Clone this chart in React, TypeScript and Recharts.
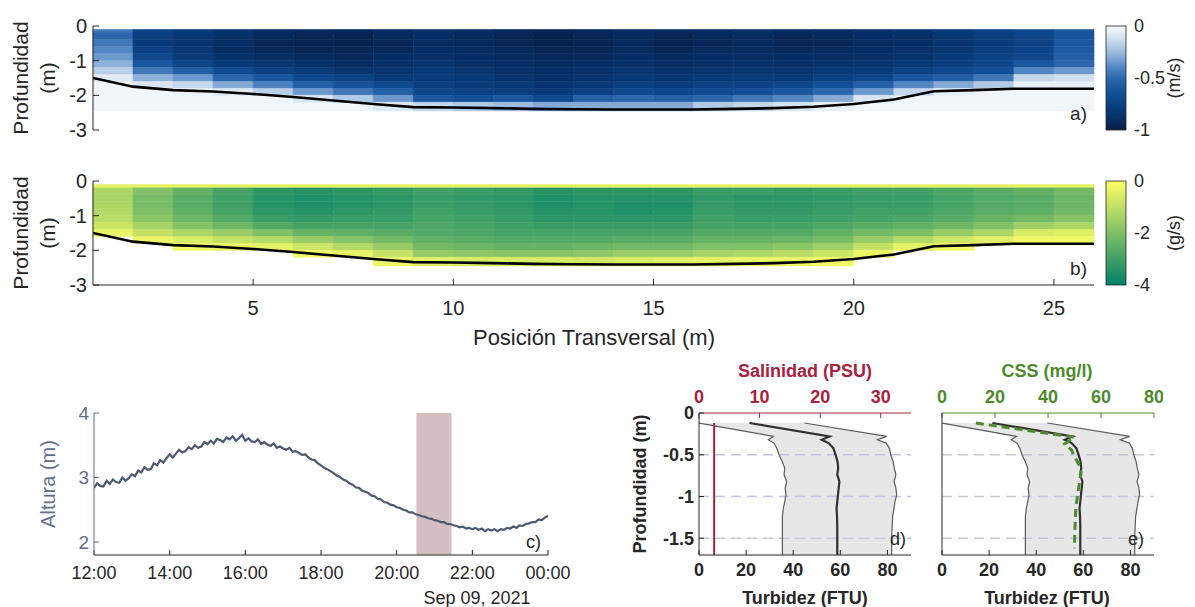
import React from "react";
import {
  ComposedChart,
  Line,
  Area,
  XAxis,
  YAxis,
  ReferenceArea,
  ReferenceLine,
} from "recharts";

const FONT = '"Liberation Sans", Arial, Helvetica, sans-serif';
const INK = "#262626";
const SLATE = "#5d6f8e";
const RED = "#a8223d";
const GREEN = "#4e8a2c";

// ---- cross section (panels a, b) ----
const columnEdges = [1, 2, 3, 4, 5, 6, 7, 8, 9, 10, 11, 12, 13, 14, 15, 16, 17, 18, 19, 20, 21, 22, 23, 24, 25, 26];
const binEdges = [-0.1, -0.2, -0.4, -0.6, -0.8, -1.0, -1.2, -1.4, -1.6, -1.8, -2.0, -2.2, -2.45];
const bedDepth = [
  -1.5, -1.75, -1.85, -1.89, -1.96, -2.05, -2.15, -2.25, -2.34, -2.35, -2.37, -2.39, -2.4,
  -2.41, -2.41, -2.41, -2.39, -2.37, -2.33, -2.25, -2.12, -1.88, -1.85, -1.81, -1.81, -1.81,
];
const positionTicks = [5, 10, 15, 20, 25];
const depthTicks = [0, -1, -2, -3];

// along-channel velocity (m/s), one array per column, top bin first
const velocity = [
  [-0.45, -0.5, -0.45, -0.4, -0.35, -0.28, -0.18, -0.07],
  [-0.75, -0.78, -0.8, -0.75, -0.7, -0.6, -0.45, -0.28, -0.1],
  [-0.8, -0.83, -0.85, -0.82, -0.8, -0.72, -0.55, -0.35, -0.15, -0.04],
  [-0.85, -0.88, -0.9, -0.9, -0.86, -0.8, -0.68, -0.5, -0.3, -0.08],
  [-0.9, -0.93, -0.95, -0.93, -0.9, -0.85, -0.75, -0.6, -0.42, -0.18],
  [-0.92, -0.95, -0.96, -0.95, -0.92, -0.88, -0.8, -0.7, -0.55, -0.35, -0.1],
  [-0.93, -0.96, -0.97, -0.95, -0.93, -0.9, -0.85, -0.75, -0.62, -0.45, -0.2],
  [-0.9, -0.93, -0.95, -0.93, -0.9, -0.88, -0.85, -0.8, -0.7, -0.55, -0.35, -0.08],
  [-0.88, -0.9, -0.92, -0.9, -0.88, -0.85, -0.82, -0.8, -0.78, -0.72, -0.6, -0.15],
  [-0.9, -0.92, -0.93, -0.92, -0.9, -0.88, -0.85, -0.82, -0.8, -0.75, -0.65, -0.2],
  [-0.93, -0.95, -0.95, -0.93, -0.92, -0.9, -0.88, -0.85, -0.82, -0.78, -0.6, -0.25],
  [-0.95, -0.97, -0.97, -0.95, -0.93, -0.92, -0.9, -0.88, -0.85, -0.8, -0.7, -0.3],
  [-0.93, -0.95, -0.96, -0.95, -0.93, -0.9, -0.88, -0.85, -0.82, -0.75, -0.55, -0.3],
  [-0.9, -0.92, -0.93, -0.92, -0.9, -0.88, -0.85, -0.82, -0.78, -0.7, -0.5, -0.3],
  [-0.92, -0.95, -0.96, -0.95, -0.92, -0.9, -0.87, -0.84, -0.8, -0.72, -0.55, -0.3],
  [-0.9, -0.93, -0.94, -0.92, -0.9, -0.88, -0.85, -0.8, -0.75, -0.68, -0.5, -0.2],
  [-0.88, -0.92, -0.93, -0.92, -0.9, -0.87, -0.84, -0.8, -0.75, -0.65, -0.45, -0.15],
  [-0.9, -0.94, -0.95, -0.93, -0.9, -0.88, -0.85, -0.8, -0.72, -0.6, -0.4, -0.1],
  [-0.9, -0.93, -0.94, -0.92, -0.9, -0.86, -0.82, -0.75, -0.65, -0.5, -0.3, -0.05],
  [-0.88, -0.9, -0.92, -0.9, -0.88, -0.85, -0.8, -0.72, -0.55, -0.35, -0.1],
  [-0.85, -0.88, -0.9, -0.88, -0.86, -0.82, -0.75, -0.6, -0.4, -0.15],
  [-0.8, -0.83, -0.85, -0.83, -0.8, -0.78, -0.7, -0.55, -0.3, -0.05],
  [-0.75, -0.78, -0.8, -0.78, -0.75, -0.72, -0.65, -0.45, -0.2],
  [-0.7, -0.72, -0.75, -0.73, -0.7, -0.6, -0.4, -0.15, -0.05],
  [-0.6, -0.62, -0.6, -0.58, -0.55, -0.5, -0.35, -0.12, -0.05],
];

// suspended sediment flux (g/s), same layout
const sedimentFlux = [
  [-0.4, -1.3, -1.35, -1.3, -1.2, -1.1, -0.8, -0.35],
  [-0.4, -2.0, -2.1, -2.1, -2.0, -1.8, -1.4, -0.9, -0.3],
  [-0.4, -2.5, -2.6, -2.6, -2.5, -2.3, -1.9, -1.3, -0.6, -0.2],
  [-0.4, -2.9, -3.0, -3.0, -2.9, -2.7, -2.3, -1.6, -0.9, -0.3],
  [-0.4, -3.3, -3.4, -3.4, -3.3, -3.1, -2.7, -2.0, -1.2, -0.4],
  [-0.4, -3.4, -3.5, -3.5, -3.4, -3.2, -2.9, -2.4, -1.6, -0.8, -0.2],
  [-0.4, -3.3, -3.4, -3.4, -3.3, -3.1, -2.9, -2.5, -1.9, -1.2, -0.4],
  [-0.4, -3.2, -3.3, -3.3, -3.2, -3.1, -2.9, -2.6, -2.2, -1.6, -0.9, -0.3],
  [-0.4, -3.0, -3.1, -3.1, -3.0, -2.9, -2.8, -2.7, -2.5, -2.2, -1.7, -0.5],
  [-0.4, -3.1, -3.2, -3.2, -3.1, -3.0, -2.9, -2.8, -2.6, -2.3, -1.8, -0.6],
  [-0.4, -3.2, -3.3, -3.3, -3.2, -3.1, -3.0, -2.9, -2.7, -2.4, -1.9, -0.6],
  [-0.4, -3.4, -3.5, -3.5, -3.4, -3.3, -3.1, -2.9, -2.7, -2.4, -1.9, -0.6],
  [-0.4, -3.3, -3.4, -3.4, -3.4, -3.3, -3.1, -2.9, -2.7, -2.3, -1.8, -0.7],
  [-0.4, -3.3, -3.4, -3.5, -3.5, -3.3, -3.1, -2.9, -2.6, -2.2, -1.6, -0.6],
  [-0.4, -3.3, -3.4, -3.5, -3.4, -3.3, -3.1, -2.9, -2.6, -2.2, -1.6, -0.5],
  [-0.4, -3.1, -3.2, -3.2, -3.1, -3.0, -2.9, -2.7, -2.4, -2.0, -1.4, -0.4],
  [-0.4, -3.1, -3.3, -3.3, -3.2, -3.1, -2.9, -2.7, -2.4, -2.0, -1.3, -0.3],
  [-0.4, -3.2, -3.3, -3.3, -3.2, -3.1, -2.9, -2.7, -2.3, -1.8, -1.1, -0.3],
  [-0.4, -3.1, -3.2, -3.2, -3.1, -3.0, -2.8, -2.5, -2.1, -1.5, -0.8, -0.2],
  [-0.4, -3.0, -3.1, -3.1, -3.0, -2.9, -2.6, -2.2, -1.6, -0.9, -0.3],
  [-0.4, -3.0, -3.1, -3.1, -3.0, -2.8, -2.5, -2.0, -1.2, -0.4],
  [-0.4, -2.8, -2.9, -2.9, -2.8, -2.6, -2.3, -1.6, -0.8, -0.2],
  [-0.4, -2.6, -2.7, -2.7, -2.6, -2.4, -2.0, -1.3, -0.5],
  [-0.4, -2.5, -2.6, -2.6, -2.5, -2.2, -1.5, -0.6, -0.2],
  [-0.4, -2.2, -2.3, -2.3, -2.2, -1.9, -1.3, -0.5, -0.2],
];

const velocityBarTicks = [0, -0.5, -1];
const fluxBarTicks = [0, -2, -4];

// ---- water level (panel c), 5-minute samples from 12:00 ----
const tideStartHour = 12;
const tideStepMinutes = 5;
const tideHeight = [
  2.84, 2.91, 2.87, 2.86, 2.95, 2.90, 2.97, 2.93, 2.92, 3.00, 2.95, 2.99,
  3.05, 3.02, 3.11, 3.08, 3.16, 3.12, 3.13, 3.22, 3.19, 3.27, 3.23, 3.30,
  3.36, 3.31, 3.37, 3.43, 3.39, 3.41, 3.47, 3.44, 3.50, 3.46, 3.48, 3.55,
  3.52, 3.57, 3.53, 3.60, 3.58, 3.55, 3.62, 3.59, 3.64, 3.57, 3.61, 3.66,
  3.57, 3.61, 3.56, 3.55, 3.59, 3.52, 3.55, 3.51, 3.49, 3.53, 3.46, 3.48,
  3.45, 3.43, 3.46, 3.40, 3.41, 3.38, 3.35, 3.36, 3.31, 3.28, 3.27, 3.22,
  3.19, 3.15, 3.13, 3.10, 3.07, 3.03, 3.01, 2.97, 2.95, 2.91, 2.89, 2.85,
  2.84, 2.80, 2.78, 2.76, 2.72, 2.71, 2.67, 2.66, 2.62, 2.61, 2.58, 2.57,
  2.54, 2.53, 2.50, 2.49, 2.46, 2.46, 2.43, 2.42, 2.40, 2.39, 2.37, 2.36,
  2.34, 2.33, 2.31, 2.31, 2.28, 2.28, 2.26, 2.25, 2.23, 2.24, 2.21, 2.22,
  2.20, 2.22, 2.19, 2.21, 2.17, 2.20, 2.18, 2.20, 2.17, 2.20, 2.19, 2.22,
  2.21, 2.24, 2.22, 2.26, 2.25, 2.28, 2.29, 2.31, 2.31, 2.35, 2.34, 2.38,
  2.41,
];
const timeTicks = [12, 14, 16, 18, 20, 22, 24];
const heightTicks = [2, 3, 4];
const surveyWindow = [20.52, 21.45];

// ---- vertical profiles (panels d, e) ----
const profileDepth = [-0.12, -0.28, -0.32, -0.36, -0.42, -0.5, -0.58, -0.66, -0.74, -0.82, -0.9, -0.98, -1.06, -1.14, -1.24, -1.36, -1.5, -1.7];
const turbidityMin = [0, 31.6, 29.4, 31.8, 33.0, 34.0, 35.3, 36.4, 36.1, 37.2, 36.6, 36.9, 36.4, 35.8, 35.4, 35.4, 35.4, 35.4];
const turbidityMean = [21.4, 55.4, 52.1, 55.0, 57.0, 58.0, 58.8, 59.1, 58.7, 59.6, 59.3, 59.0, 58.7, 58.4, 58.6, 58.7, 58.7, 58.7];
const turbidityMax = [44.7, 79.7, 75.7, 79.5, 80.8, 81.4, 82.4, 82.9, 83.6, 82.8, 83.6, 83.9, 83.2, 82.8, 82.2, 82.0, 81.8, 81.8];
const salinityDepth = [-0.12, -1.7];
const salinity = [2.5, 2.5];
const cssDepth = [-0.12, -0.29, -0.37, -0.44, -0.52, -0.63, -0.71, -0.83, -0.95, -1.11, -1.26, -1.45, -1.62];
const css = [12.8, 50.0, 46.3, 48.8, 50.0, 51.9, 52.5, 51.9, 51.3, 50.6, 50.3, 50.1, 50.0];
const turbidityTicks = [0, 20, 40, 60, 80];
const salinityTicks = [0, 10, 20, 30];
const cssTicks = [0, 20, 40, 60, 80];
const profileDepthTicks = [0, -0.5, -1, -1.5];

// ---- colour maps ----
const blueStops: [number, string][] = [
  [0, "#f7fafd"], [0.1, "#d9e5f2"], [0.25, "#9dbcde"], [0.4, "#5387c4"], [0.5, "#2c67ae"],
  [0.65, "#124f97"], [0.8, "#093b7a"], [0.9, "#062e64"], [1, "#051d46"],
];

function hexToRgb(h: string) {
  return [1, 3, 5].map((i) => parseInt(h.slice(i, i + 2), 16));
}

function blueAt(t: number) {
  const c = Math.max(0, Math.min(1, t));
  for (let i = 1; i < blueStops.length; i++) {
    if (c <= blueStops[i][0]) {
      const [t0, h0] = blueStops[i - 1];
      const [t1, h1] = blueStops[i];
      const f = (c - t0) / (t1 - t0);
      const a = hexToRgb(h0);
      const b = hexToRgb(h1);
      return `rgb(${a.map((v, k) => Math.round(v + (b[k] - v) * f)).join(",")})`;
    }
  }
  return blueStops[blueStops.length - 1][1];
}

const velocityColor = (v: number) => blueAt(-v);

// MATLAB "summer": -4 -> green, 0 -> yellow
function summerAt(t: number) {
  const c = Math.max(0, Math.min(1, t));
  return `rgb(${Math.round(255 * c)},${Math.round(128 + 127 * c)},102)`;
}
const fluxColor = (v: number) => summerAt((v + 4) / 4);

const bedRows = columnEdges.map((x, i) => ({ x, bed: bedDepth[i] }));

function heatCells(grid: number[][], colorOf: (v: number) => string) {
  const cells: React.ReactElement[] = [];
  grid.forEach((col, i) => {
    col.forEach((v, j) => {
      const fill = colorOf(v);
      cells.push(
        <ReferenceArea
          key={`c${i}-${j}`}
          xAxisId="x"
          yAxisId="y"
          x1={columnEdges[i]}
          x2={columnEdges[i + 1]}
          y1={binEdges[j + 1]}
          y2={binEdges[j]}
          fill={fill}
          fillOpacity={1}
          stroke={fill}
          strokeWidth={0.6}
          ifOverflow="visible"
        />
      );
    });
  });
  return cells;
}

function SectionPanel({
  top,
  grid,
  colorOf,
  underlay,
  showLabels,
}: {
  top: number;
  grid: number[][];
  colorOf: (v: number) => string;
  underlay?: string;
  showLabels: boolean;
}) {
  const tickStyle = { fill: INK, fontSize: 20, fontFamily: FONT };
  return (
    <div style={{ position: "absolute", left: 0, top }}>
      <ComposedChart
        width={1100}
        height={showLabels ? 170 : 142}
        data={bedRows}
        margin={{ top: 26, right: 6, bottom: showLabels ? 0 : 12, left: 0 }}
      >
        <XAxis
          xAxisId="x"
          dataKey="x"
          type="number"
          domain={[1, 26]}
          ticks={positionTicks}
          interval={0}
          height={showLabels ? 40 : 0}
          tick={showLabels ? tickStyle : false}
          tickSize={-6}
          tickMargin={22}
          tickLine={{ stroke: INK }}
          axisLine={{ stroke: INK }}
          allowDataOverflow
        />
        <XAxis
          xAxisId="xt"
          orientation="top"
          mirror
          height={0}
          type="number"
          domain={[1, 26]}
          ticks={positionTicks}
          tick={false}
          tickSize={6}
          tickLine={{ stroke: INK }}
          axisLine={{ stroke: INK }}
        />
        <YAxis
          yAxisId="y"
          type="number"
          domain={[-3, 0]}
          ticks={depthTicks}
          interval={0}
          width={93}
          tick={tickStyle}
          tickSize={-6}
          tickMargin={12}
          tickLine={{ stroke: INK }}
          axisLine={{ stroke: INK }}
          allowDataOverflow
        />
        <YAxis
          yAxisId="yr"
          orientation="right"
          mirror
          width={0}
          type="number"
          domain={[-3, 0]}
          ticks={depthTicks}
          tick={false}
          tickSize={6}
          tickLine={{ stroke: INK }}
          axisLine={{ stroke: INK }}
        />
        {underlay && (
          <ReferenceArea
            xAxisId="x"
            yAxisId="y"
            x1={1}
            x2={26}
            y1={-2.45}
            y2={-0.1}
            fill={underlay}
            fillOpacity={1}
            stroke="none"
          />
        )}
        {heatCells(grid, colorOf)}
        <Line
          xAxisId="x"
          yAxisId="y"
          dataKey="bed"
          type="linear"
          stroke="#000"
          strokeWidth={2.6}
          dot={false}
          isAnimationActive={false}
        />
      </ComposedChart>
    </div>
  );
}

const tideRows = tideHeight.map((h, i) => ({
  t: tideStartHour + (i * tideStepMinutes) / 60,
  h,
}));

const hourLabel = (h: number) => `${String(h % 24).padStart(2, "0")}:00`;

function TidePanel() {
  return (
    <div style={{ position: "absolute", left: 0, top: 380 }}>
      <ComposedChart
        width={590}
        height={205}
        data={tideRows}
        margin={{ top: 33, right: 42, bottom: 0, left: 0 }}
      >
        <XAxis
          xAxisId="x"
          dataKey="t"
          type="number"
          domain={[12, 24]}
          ticks={timeTicks}
          interval={0}
          tickFormatter={hourLabel}
          height={30}
          tick={{ fill: INK, fontSize: 18, fontFamily: FONT }}
          tickSize={-5}
          tickMargin={16}
          tickLine={{ stroke: INK }}
          axisLine={{ stroke: INK }}
          allowDataOverflow
        />
        <XAxis
          xAxisId="xt"
          orientation="top"
          mirror
          height={0}
          type="number"
          domain={[12, 24]}
          ticks={timeTicks}
          tick={false}
          tickSize={5}
          tickLine={{ stroke: INK }}
          axisLine={{ stroke: INK }}
        />
        <YAxis
          yAxisId="y"
          type="number"
          domain={[1.8, 4]}
          ticks={heightTicks}
          interval={0}
          width={94}
          tick={{ fill: SLATE, fontSize: 19, fontFamily: FONT }}
          tickSize={-5}
          tickMargin={10}
          tickLine={{ stroke: SLATE }}
          axisLine={{ stroke: SLATE }}
          allowDataOverflow
        />
        <YAxis
          yAxisId="yr"
          orientation="right"
          mirror
          width={0}
          type="number"
          domain={[1.8, 4]}
          ticks={heightTicks}
          tick={false}
          tickSize={5}
          tickLine={{ stroke: SLATE }}
          axisLine={{ stroke: SLATE }}
        />
        <ReferenceArea
          xAxisId="x"
          yAxisId="y"
          x1={surveyWindow[0]}
          x2={surveyWindow[1]}
          y1={1.8}
          y2={4}
          fill="#d4bec2"
          fillOpacity={1}
          stroke="none"
        />
        <Line
          xAxisId="x"
          yAxisId="y"
          dataKey="h"
          type="linear"
          stroke="#4b5a72"
          strokeWidth={2.2}
          dot={false}
          isAnimationActive={false}
        />
      </ComposedChart>
    </div>
  );
}

const bandRows = profileDepth.map((depth, i) => ({
  depth,
  band: [turbidityMin[i], turbidityMax[i]],
}));
const minRows = profileDepth.map((depth, i) => ({ depth, v: turbidityMin[i] }));
const meanRows = profileDepth.map((depth, i) => ({ depth, v: turbidityMean[i] }));
const maxRows = profileDepth.map((depth, i) => ({ depth, v: turbidityMax[i] }));
const salinityRows = salinityDepth.map((depth, i) => ({ depth, v: salinity[i] }));
const cssRows = cssDepth.map((depth, i) => ({ depth, v: css[i] }));

function ProfilePanel({
  left,
  topDomain,
  topTicks,
  topColor,
  showDepthLabels,
  overlay,
}: {
  left: number;
  topDomain: [number, number];
  topTicks: number[];
  topColor: string;
  showDepthLabels: boolean;
  overlay: React.ReactNode;
}) {
  const bold = { fontSize: 18, fontWeight: 700, fontFamily: FONT };
  return (
    <div style={{ position: "absolute", left, top: 380 }}>
      <ComposedChart
        layout="vertical"
        width={320}
        height={210}
        margin={{ top: 3, right: 9, bottom: 0, left: 0 }}
      >
        <XAxis
          xAxisId="bot"
          type="number"
          domain={[0, 90]}
          ticks={turbidityTicks}
          interval={0}
          height={35}
          tick={{ ...bold, fill: INK }}
          tickSize={-5}
          tickMargin={13}
          tickLine={{ stroke: INK }}
          axisLine={{ stroke: INK }}
          allowDataOverflow
        />
        <XAxis
          xAxisId="top"
          orientation="top"
          type="number"
          domain={topDomain}
          ticks={topTicks}
          interval={0}
          height={30}
          tick={{ ...bold, fill: topColor }}
          tickSize={-5}
          tickMargin={15}
          tickLine={{ stroke: topColor }}
          axisLine={{ stroke: topColor }}
          allowDataOverflow
        />
        <YAxis
          yAxisId="y"
          dataKey="depth"
          type="number"
          reversed
          domain={[-1.7, 0]}
          ticks={profileDepthTicks}
          interval={0}
          width={99}
          tick={showDepthLabels ? { ...bold, fill: INK } : false}
          tickSize={-5}
          tickMargin={10}
          tickLine={{ stroke: INK }}
          axisLine={{ stroke: INK }}
          allowDataOverflow
        />
        <YAxis
          yAxisId="yr"
          orientation="right"
          mirror
          reversed
          width={0}
          type="number"
          domain={[-1.7, 0]}
          ticks={profileDepthTicks}
          tick={false}
          tickLine={false}
          axisLine={{ stroke: topColor }}
        />
        <Area
          xAxisId="bot"
          yAxisId="y"
          data={bandRows}
          dataKey="band"
          type="linear"
          fill="#e7e7e7"
          fillOpacity={1}
          stroke="none"
          isAnimationActive={false}
        />
        {profileDepthTicks.slice(1).map((d) => (
          <ReferenceLine
            key={d}
            xAxisId="bot"
            yAxisId="y"
            y={d}
            stroke="#c4c6da"
            strokeWidth={1.5}
            strokeDasharray="10 6"
          />
        ))}
        <Line xAxisId="bot" yAxisId="y" data={minRows} dataKey="v" type="linear" stroke="#5b5b5b" strokeWidth={1.2} dot={false} isAnimationActive={false} />
        <Line xAxisId="bot" yAxisId="y" data={maxRows} dataKey="v" type="linear" stroke="#5b5b5b" strokeWidth={1.2} dot={false} isAnimationActive={false} />
        <Line xAxisId="bot" yAxisId="y" data={meanRows} dataKey="v" type="linear" stroke="#303030" strokeWidth={2.2} dot={false} isAnimationActive={false} />
        {overlay}
      </ComposedChart>
    </div>
  );
}

function Colorbar({
  id,
  x,
  y,
  h,
  colorOf,
  domain,
  ticks,
  unit,
}: {
  id: string;
  x: number;
  y: number;
  h: number;
  colorOf: (v: number) => string;
  domain: [number, number];
  ticks: number[];
  unit: string;
}) {
  const [lo, hi] = domain;
  const steps = 20;
  const stops = Array.from({ length: steps + 1 }, (_, k) => {
    const v = hi - ((hi - lo) * k) / steps;
    return <stop key={k} offset={`${(k / steps) * 100}%`} stopColor={colorOf(v)} />;
  });
  const yOf = (v: number) => y + ((hi - v) / (hi - lo)) * h;
  return (
    <g>
      <defs>
        <linearGradient id={id} x1="0" y1="0" x2="0" y2="1">
          {stops}
        </linearGradient>
      </defs>
      <rect x={x} y={y} width={20} height={h} fill={`url(#${id})`} stroke={INK} strokeWidth={0.8} />
      {ticks.map((t) => (
        <text key={t} x={x + 28} y={yOf(t)} fontSize={18} fill={INK} dominantBaseline="central">
          {t}
        </text>
      ))}
      <text
        x={1174}
        y={y + h / 2}
        fontSize={18}
        fill={INK}
        textAnchor="middle"
        dominantBaseline="central"
        transform={`rotate(-90 1174 ${y + h / 2})`}
      >
        {unit}
      </text>
    </g>
  );
}

type Label = {
  x: number;
  y: number;
  text: string;
  size?: number;
  fill?: string;
  bold?: boolean;
  rotate?: boolean;
  anchor?: "start" | "middle" | "end";
};

const labels: Label[] = [
  { x: 20, y: 78, text: "Profundidad", size: 21, rotate: true },
  { x: 47, y: 78, text: "(m)", size: 21, rotate: true },
  { x: 20, y: 233, text: "Profundidad", size: 21, rotate: true },
  { x: 47, y: 233, text: "(m)", size: 21, rotate: true },
  { x: 594, y: 337, text: "Posición Transversal (m)", size: 22 },
  { x: 1087, y: 113, text: "a)", size: 19, anchor: "end" },
  { x: 1087, y: 268, text: "b)", size: 19, anchor: "end" },
  { x: 48, y: 484, text: "Altura (m)", size: 20, rotate: true, fill: SLATE },
  { x: 477, y: 598, text: "Sep 09, 2021", size: 18 },
  { x: 541, y: 542, text: "c)", size: 18, anchor: "end" },
  { x: 805, y: 371, text: "Salinidad (PSU)", size: 18, bold: true, fill: RED },
  { x: 1047, y: 371, text: "CSS (mg/l)", size: 18, bold: true, fill: GREEN },
  { x: 805, y: 598, text: "Turbidez (FTU)", size: 18, bold: true },
  { x: 1047, y: 598, text: "Turbidez (FTU)", size: 18, bold: true },
  { x: 640, y: 484, text: "Profundidad (m)", size: 18, bold: true, rotate: true },
  { x: 906, y: 539, text: "d)", size: 18, anchor: "end" },
  { x: 1144, y: 539, text: "e)", size: 18, anchor: "end" },
];

export default function App() {
  return (
    <div
      style={{
        position: "absolute",
        left: 0,
        top: 0,
        width: 1195,
        height: 607,
        background: "#fff",
        fontFamily: FONT,
        overflow: "hidden",
      }}
    >
      <SectionPanel top={0} grid={velocity} colorOf={velocityColor} underlay={velocityColor(-0.02)} showLabels={false} />
      <SectionPanel top={155} grid={sedimentFlux} colorOf={fluxColor} showLabels />
      <TidePanel />
      <ProfilePanel
        left={600}
        topDomain={[0, 35]}
        topTicks={salinityTicks}
        topColor={RED}
        showDepthLabels
        overlay={
          <Line xAxisId="top" yAxisId="y" data={salinityRows} dataKey="v" type="linear" stroke={RED} strokeWidth={2} dot={false} isAnimationActive={false} />
        }
      />
      <ProfilePanel
        left={843}
        topDomain={[0, 80]}
        topTicks={cssTicks}
        topColor={GREEN}
        showDepthLabels={false}
        overlay={
          <Line xAxisId="top" yAxisId="y" data={cssRows} dataKey="v" type="linear" stroke={GREEN} strokeWidth={3} strokeDasharray="8 5" dot={false} isAnimationActive={false} />
        }
      />
      <svg
        width={1195}
        height={607}
        style={{ position: "absolute", left: 0, top: 0, pointerEvents: "none", fontFamily: FONT }}
      >
        <Colorbar id="cbVel" x={1106} y={26} h={104} colorOf={velocityColor} domain={[-1, 0]} ticks={velocityBarTicks} unit="(m/s)" />
        <Colorbar id="cbFlux" x={1106} y={181} h={104} colorOf={fluxColor} domain={[-4, 0]} ticks={fluxBarTicks} unit="(g/s)" />
        {labels.map((l, i) => (
          <text
            key={i}
            x={l.x}
            y={l.y}
            fontSize={l.size ?? 18}
            fontWeight={l.bold ? 700 : 400}
            fill={l.fill ?? INK}
            textAnchor={l.anchor ?? "middle"}
            dominantBaseline="central"
            transform={l.rotate ? `rotate(-90 ${l.x} ${l.y})` : undefined}
          >
            {l.text}
          </text>
        ))}
      </svg>
    </div>
  );
}
